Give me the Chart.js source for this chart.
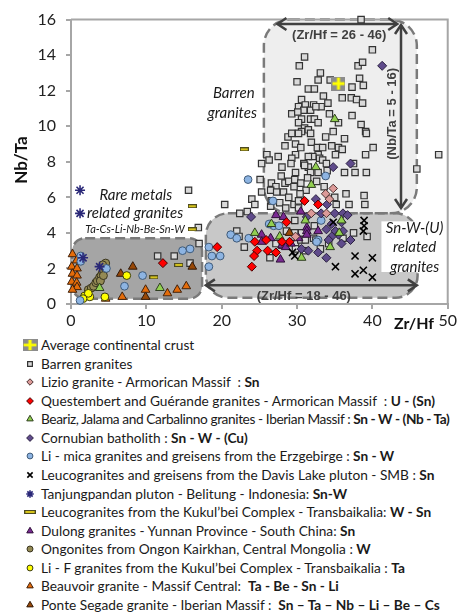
<!DOCTYPE html>
<html>
<head>
<meta charset="utf-8">
<title>Nb/Ta vs Zr/Hf</title>
<script src="https://cdn.jsdelivr.net/npm/chart.js@4.4.1/dist/chart.umd.min.js"></script>
<style>
  html, body { margin: 0; padding: 0; background: #fff; }
  #page { position: relative; width: 459px; height: 613px; overflow: hidden; }
  #chart { position: absolute; left: 0; top: 0; }
  #legend { position: absolute; left: 0; top: 0; width: 459px; font-family: Lato, "Open Sans", sans-serif; font-size: 13.7px; color: #1a1a1a; }
  .item { position: absolute; left: 0; height: 18px; line-height: 18px; white-space: pre; }
  .item canvas { position: absolute; left: 20px; top: 0; }
  .item span { position: absolute; left: 41px; top: 0; }
  .item.tight span { letter-spacing: -0.4px; }
</style>
</head>
<body>
<div id="page">
  <canvas id="chart" width="459" height="335"></canvas>
  <div id="legend"></div>
</div>
<script>
// Zr/Hf (x) against Nb/Ta (y) for each granite group
const crust = [[35.5, 12.4]];

const barrenGranites = [
  [38.5, 16.0], [40.0, 14.3], [31.0, 13.9], [30.3, 13.4], [38.1, 13.4], [38.7, 13.6], [33.1, 13.0],
  [32.8, 12.6], [34.4, 12.6], [38.3, 12.7], [38.8, 12.3], [37.3, 12.2], [31.5, 12.1], [32.3, 12.1],
  [33.5, 11.7], [36.0, 11.6], [37.2, 11.6], [37.9, 11.5], [38.7, 11.3], [30.6, 11.5],
  [30.2, 11.1], [31.1, 11.2], [32.2, 11.2], [33.2, 11.1], [30.9, 10.9], [31.8, 10.9], [32.5, 11.1],
  [29.3, 10.7], [30.1, 10.8], [30.6, 10.4], [31.8, 10.4], [32.3, 10.4], [32.8, 10.2], [34.3, 10.7],
  [37.3, 10.6], [35.5, 10.2], [30.2, 10.2], [31.0, 9.9], [30.6, 9.7], [31.5, 9.8], [28.8, 9.4],
  [29.3, 9.6], [30.2, 9.6], [31.8, 9.6], [33.8, 9.4], [34.8, 9.7], [38.5, 10.1], [39.1, 9.7],
  [39.2, 9.6], [36.3, 9.3], [35.5, 8.8], [36.0, 8.7], [35.1, 8.4], [40.1, 8.8], [39.1, 8.4],
  [29.8, 9.0], [30.5, 8.8], [31.9, 9.1], [32.7, 8.8], [33.4, 8.8], [32.8, 8.4], [29.8, 8.4],
  [29.3, 8.2], [32.1, 8.3], [33.0, 8.2], [31.5, 8.3], [33.4, 8.1], [26.0, 8.4], [26.3, 8.1],
  [48.8, 8.4], [25.3, 7.9], [45.9, 7.6], [28.0, 7.7], [29.2, 7.9], [30.9, 7.9], [31.5, 7.7],
  [29.8, 7.4], [31.0, 7.8], [31.8, 7.4], [32.8, 7.4], [34.0, 7.5], [36.3, 7.4], [37.7, 7.4],
  [39.2, 7.4], [37.5, 7.9], [25.1, 7.0], [26.6, 6.8], [27.2, 6.6], [28.4, 6.8], [28.9, 6.9],
  [29.7, 7.0], [29.6, 6.6], [30.5, 6.8], [25.3, 6.3], [26.5, 6.4], [27.3, 6.3], [28.2, 6.3],
  [20.4, 5.6], [24.0, 5.9], [24.4, 5.6], [26.5, 5.5], [27.7, 5.7], [28.5, 5.4], [22.4, 5.1],
  [23.4, 5.2], [29.7, 4.7], [28.9, 6.0], [29.6, 5.6], [30.2, 5.8], [30.2, 5.4], [26.6, 5.8],
  [36.5, 6.2], [38.9, 6.1], [39.0, 5.6], [36.9, 5.6], [35.2, 5.6], [35.0, 6.0], [29.7, 4.0],
  [30.6, 4.0], [29.8, 3.4], [30.5, 3.6], [32.2, 3.7], [33.1, 3.1], [26.4, 2.6], [39.3, 3.8],
  [22.0, 4.1], [22.3, 3.8], [17.0, 3.4], [23.0, 3.2], [31.1, 3.6], [32.5, 3.6], [34.2, 3.4],
  [36.1, 3.7], [37.5, 4.0], [32.3, 4.4], [28.6, 4.1], [28.0, 3.3], [27.2, 3.4], [30.9, 3.0],
  [29.8, 3.1], [11.5, 2.7], [13.7, 2.7], [15.6, 6.4], [16.9, 4.3], [15.8, 2.3],
  [31.2, 6.4], [32.6, 6.9], [33.6, 6.6], [30.4, 6.2], [27.9, 7.2], [34.6, 8.9], [28.4, 8.9],
  [31.4, 7.1], [33.9, 7.9], [27.5, 8.3], [30.0, 12.5], [34.1, 11.3]
];

const lizio = [[34.8, 6.5], [33.8, 6.2], [31.9, 5.1], [33.9, 5.1], [29.8, 3.8], [34.3, 5.9]];

const questembert = [
  [31.0, 5.8], [32.8, 5.6], [28.6, 4.6], [25.9, 3.6], [24.4, 3.5], [29.0, 3.5], [28.0, 3.5],
  [24.7, 3.0], [26.1, 3.0], [27.2, 2.9], [24.3, 2.7], [24.0, 2.1], [19.4, 3.2], [12.2, 2.3]
];

const beariz = [
  [35.0, 10.4], [32.5, 7.7], [31.9, 6.7], [31.1, 4.7], [26.6, 4.5], [24.4, 4.0], [27.7, 3.8],
  [35.9, 4.7], [35.6, 4.0], [34.4, 3.2], [30.6, 2.6], [11.8, 0.9], [3.8, 0.9]
];

const cornubian = [
  [41.3, 13.4], [34.8, 7.7], [37.1, 7.9], [23.9, 4.9], [31.3, 4.9], [34.0, 5.6], [35.0, 5.1],
  [36.1, 5.1], [36.7, 5.0], [35.9, 4.6], [34.6, 4.5], [33.9, 4.2], [35.1, 4.1], [36.1, 4.1],
  [35.5, 3.9], [34.6, 3.8], [37.1, 3.6], [35.9, 3.4], [30.6, 3.1], [31.5, 3.0], [33.9, 2.6],
  [32.5, 5.9], [33.2, 5.1], [34.2, 3.6], [32.8, 2.9]
];

const erzgebirge = [
  [23.5, 7.0], [33.8, 7.2], [26.8, 5.8], [33.2, 4.7], [32.8, 3.6], [26.9, 4.4], [26.3, 4.5],
  [21.2, 3.9], [22.0, 3.7], [23.6, 3.7], [27.6, 4.4], [32.6, 3.5], [18.3, 3.2], [18.7, 2.7],
  [19.8, 2.7], [18.3, 2.1], [14.8, 3.0], [15.8, 3.1], [9.5, 1.6], [7.1, 1.0], [1.3, 2.7],
  [1.3, 2.4], [4.7, 2.0], [1.2, 0.2]
];

const davisLake = [
  [38.9, 4.7], [38.9, 4.4], [38.8, 4.1], [37.7, 2.7], [40.0, 2.6], [35.1, 2.1], [37.7, 1.7],
  [38.8, 1.9], [40.0, 1.5], [29.4, 2.9], [29.7, 2.7], [34.8, 4.6]
];

const tanjungpandan = [[1.2, 6.4], [1.2, 5.1], [1.6, 2.6], [3.8, 2.1]];

const kukulbeiLeuco = [[23.0, 8.7], [16.1, 5.5], [16.1, 4.2], [14.3, 2.2], [11.0, 1.5]];

const dulong = [
  [27.2, 5.0], [28.2, 4.9], [30.5, 5.2], [31.3, 4.3], [31.3, 4.1], [31.3, 3.9], [25.3, 3.9],
  [26.5, 3.7], [28.0, 3.3], [28.5, 3.2], [27.8, 2.5], [32.8, 4.1], [30.2, 3.7], [25.3, 3.5],
  [29.2, 3.4]
];

const ongonites = [
  [2.3, 0.8], [2.7, 0.9], [3.0, 1.0], [3.3, 1.2], [3.5, 1.3], [3.8, 1.5], [4.0, 1.6], [4.2, 1.8],
  [4.3, 1.9], [4.4, 2.1], [4.5, 2.2], [4.6, 2.3], [3.9, 1.3], [4.3, 1.6], [4.6, 2.0], [4.2, 2.2]
];

const kukulbeiLiF = [[1.8, 0.45], [2.5, 0.4], [2.3, 0.6], [4.5, 0.4], [7.4, 1.6], [1.6, 0.3]];

const beauvoir = [
  [0.2, 2.8], [0.75, 2.45], [0.1, 2.1], [0.8, 2.0], [0.2, 1.7], [0.8, 1.6], [0.1, 1.25],
  [0.75, 1.2], [0.8, 0.95], [0.2, 0.8], [9.9, 0.8], [12.8, 0.6], [14.1, 0.8], [15.3, 1.0],
  [6.8, 0.4], [4.6, 0.3]
];

const ponteSegade = [[29.0, 4.0], [16.1, 2.1], [8.2, 2.1], [6.6, 1.7], [9.9, 0.4]];

// shaded fields, arrows and their captions (axis units)
const zones = [
  { x0: 25.6, x1: 45.9, y0: 5.1, y1: 16.0, fill: '#eeeeee', r: 26 },
  { x0: 17.9, x1: 46.0, y0: 0.35, y1: 5.1, fill: '#c8c8c8', r: 22 },
  { x0: 0.15, x1: 17.4, y0: 0.3, y1: 3.7, fill: '#a5a5a5', r: 13 }
];
const arrows = [
  [27.4, 15.75, 43.3, 15.75],
  [43.8, 15.7, 43.8, 5.4],
  [17.9, 1.05, 45.9, 1.05]
];

function makeIcon(w, h, paint) {
  const c = document.createElement('canvas');
  c.width = w;
  c.height = h;
  paint(c.getContext('2d'), w, h);
  return c;
}
const crustIcon = makeIcon(14, 14, (g, w, h) => {
  g.fillStyle = '#8c8c8c';
  g.fillRect(0, 0, w, h);
  g.fillStyle = '#ffff00';
  g.fillRect(5.5, 1, 3, 12);
  g.fillRect(1, 5.5, 12, 3);
});
const dashIcon = makeIcon(9, 4, (g, w) => {
  g.fillStyle = '#d6c41c';
  g.fillRect(1, 1, w - 2, 2);
  g.strokeStyle = '#4d4a20';
  g.lineWidth = 1;
  g.strokeRect(0.5, 0.5, w - 1, 3);
});

const series = [
  { label: 'Average continental crust', bold: '', data: crust, style: crustIcon, r: 7, bg: '#8c8c8c', bd: '#8c8c8c', bw: 0, order: 0 },
  { label: 'Barren granites', bold: '', data: barrenGranites, style: 'rect', r: 4.5, bg: '#d9d9d9', bd: '#333333', bw: 1.2, order: 20 },
  { label: 'Lizio granite - Armorican Massif  : ', bold: 'Sn', data: lizio, style: 'rectRot', r: 4.3, bg: '#dc9a98', bd: '#4a3030', bw: 1, order: 5 },
  { label: 'Questembert and Guérande granites - Armorican Massif  : ', bold: 'U - (Sn)', data: questembert, style: 'rectRot', r: 4.5, bg: '#ff0000', bd: '#4a0000', bw: 1, order: 4 },
  { label: 'Beariz, Jalama and Carbalinno granites - Iberian Massif : ', bold: 'Sn - W - (Nb - Ta)', data: beariz, style: 'triangle', r: 5, bg: '#92d050', bd: '#2e3d20', bw: 1, order: 6, tight: true },
  { label: 'Cornubian batholith : ', bold: 'Sn - W - (Cu)', data: cornubian, style: 'rectRot', r: 4.5, bg: '#5f4b8b', bd: '#2a2040', bw: 1, order: 7 },
  { label: 'Li - mica granites and greisens from the Erzgebirge : ', bold: 'Sn - W', data: erzgebirge, style: 'circle', r: 3.9, bg: '#8db4e2', bd: '#3f5a78', bw: 1, order: 8 },
  { label: 'Leucogranites and greisens from the Davis Lake pluton - SMB : ', bold: 'Sn', data: davisLake, style: 'crossRot', r: 5, bg: '#000000', bd: '#000000', bw: 1.6, order: 3 },
  { label: 'Tanjungpandan pluton - Belitung - Indonesia: ', bold: 'Sn-W', data: tanjungpandan, style: 'star', r: 5, bg: '#2a2878', bd: '#2a2878', bw: 1.6, order: 2 },
  { label: 'Leucogranites from the Kukul’bei Complex - Transbaikalia: ', bold: 'W - Sn', data: kukulbeiLeuco, style: dashIcon, r: 5, bg: '#d6c41c', bd: '#4d4a20', bw: 0, order: 1 },
  { label: 'Dulong granites - Yunnan Province - South China: ', bold: 'Sn', data: dulong, style: 'triangle', r: 5, bg: '#7a2a92', bd: '#2e1038', bw: 1, order: 9 },
  { label: 'Ongonites from Ongon Kairkhan, Central Mongolia : ', bold: 'W', data: ongonites, style: 'circle', r: 4, bg: '#948a54', bd: '#3a3520', bw: 1, order: 11 },
  { label: 'Li - F granites from the Kukul’bei Complex - Transbaikalia : ', bold: 'Ta', data: kukulbeiLiF, style: 'circle', r: 3.9, bg: '#ffff00', bd: '#3a3a10', bw: 1, order: 10 },
  { label: 'Beauvoir granite - Massif Central:  ', bold: 'Ta - Be - Sn - Li', data: beauvoir, style: 'triangle', r: 5, bg: '#e46c0a', bd: '#40200a', bw: 1, order: 12 },
  { label: 'Ponte Segade granite - Iberian Massif :  ', bold: 'Sn – Ta – Nb – Li – Be – Cs', data: ponteSegade, style: 'triangle', r: 5, bg: '#984807', bd: '#301808', bw: 1, order: 13 }
];

function roundRect(ctx, l, t, r, b, rad) {
  ctx.beginPath();
  ctx.moveTo(l + rad, t);
  ctx.arcTo(r, t, r, b, rad);
  ctx.arcTo(r, b, l, b, rad);
  ctx.arcTo(l, b, l, t, rad);
  ctx.arcTo(l, t, r, t, rad);
  ctx.closePath();
}

function chevron(ctx, x, y, ang) {
  const L = 9, W = 6;
  const c = Math.cos(ang), s = Math.sin(ang);
  ctx.beginPath();
  ctx.moveTo(x - L * c + W * s, y - L * s - W * c);
  ctx.lineTo(x, y);
  ctx.lineTo(x - L * c - W * s, y - L * s + W * c);
  ctx.stroke();
}

function label(ctx, text, x, y, font, rot) {
  ctx.save();
  ctx.translate(x, y);
  if (rot) ctx.rotate(rot);
  ctx.font = font;
  ctx.textAlign = 'center';
  ctx.textBaseline = 'middle';
  ctx.fillText(text, 0, 0);
  ctx.restore();
}

const fields = {
  id: 'fields',
  beforeDatasetsDraw(chart) {
    const { ctx, chartArea: a, scales: { x, y } } = chart;
    const px = v => x.getPixelForValue(v);
    const py = v => y.getPixelForValue(v);
    ctx.save();

    zones.forEach(z => {
      roundRect(ctx, px(z.x0), py(z.y1), px(z.x1), py(z.y0), z.r);
      ctx.fillStyle = z.fill;
      ctx.fill();
    });
    ctx.setLineDash([10, 5]);
    ctx.lineWidth = 2.5;
    ctx.strokeStyle = '#7a7a7a';
    zones.forEach(z => {
      roundRect(ctx, px(z.x0), py(z.y1), px(z.x1), py(z.y0), z.r);
      ctx.stroke();
    });
    ctx.setLineDash([]);

    // white patch behind the Sn-W-(U) caption
    ctx.fillStyle = '#ffffff';
    ctx.fillRect(px(41.2), py(4.65), a.right - px(41.2), py(1.8) - py(4.65));

    // top and right frame
    ctx.strokeStyle = '#a6a6a6';
    ctx.lineWidth = 2;
    ctx.beginPath();
    ctx.moveTo(a.left, a.top);
    ctx.lineTo(a.right, a.top);
    ctx.lineTo(a.right, a.bottom);
    ctx.stroke();

    // range arrows
    ctx.strokeStyle = '#404040';
    ctx.lineWidth = 2.5;
    arrows.forEach(([x1, y1, x2, y2]) => {
      const X1 = px(x1), Y1 = py(y1), X2 = px(x2), Y2 = py(y2);
      ctx.beginPath();
      ctx.moveTo(X1, Y1);
      ctx.lineTo(X2, Y2);
      ctx.stroke();
      chevron(ctx, X2, Y2, Math.atan2(Y2 - Y1, X2 - X1));
      chevron(ctx, X1, Y1, Math.atan2(Y1 - Y2, X1 - X2));
    });

    ctx.fillStyle = '#404040';
    const bold = 'bold 13px "Liberation Sans", Arial, sans-serif';
    label(ctx, '(Zr/Hf = 26 - 46)', px(35.6), py(15.1), bold);
    label(ctx, '(Nb/Ta = 5 - 16)', px(42.6), py(10.7), bold, -Math.PI / 2);
    label(ctx, '(Zr/Hf = 18 - 46)', px(30.9), py(0.4), bold);

    ctx.fillStyle = '#1a1a1a';
    const it = 'italic 15px Lato, sans-serif';
    label(ctx, 'Barren', px(21.6), py(11.85), it);
    label(ctx, 'granites', px(21.4), py(10.75), it);
    label(ctx, 'Rare metals', px(8.6), py(6.1), it);
    label(ctx, 'related granites', px(8.5), py(5.1), it);
    label(ctx, 'Ta-Cs-Li-Nb-Be-Sn-W', px(8.5), py(4.2), 'italic 11px Lato, sans-serif');
    label(ctx, 'Sn-W-(U)', px(45.6), py(4.25), it);
    label(ctx, 'related', px(45.6), py(3.2), it);
    label(ctx, 'granites', px(45.6), py(2.1), it);
    ctx.restore();
  },
  afterDraw(chart) {
    const { ctx } = chart;
    ctx.save();
    ctx.fillStyle = '#111111';
    label(ctx, 'Nb/Ta', 22, 160, 'bold 17px Lato, sans-serif', -Math.PI / 2);
    label(ctx, 'Zr/Hf', 414, 324, 'bold 16px Lato, sans-serif');
    ctx.restore();
  }
};

const tickFont = { family: 'Lato', size: 16 };
const axisGrid = { display: true, drawOnChartArea: false, drawTicks: true, tickLength: 5, color: '#a6a6a6', lineWidth: 2 };

new Chart('chart', {
  type: 'scatter',
  data: {
    datasets: series.map(s => ({
      label: s.label,
      data: s.data.map(([x, y]) => ({ x, y })),
      pointStyle: s.style,
      pointRadius: s.r,
      pointBackgroundColor: s.bg,
      pointBorderColor: s.bd,
      pointBorderWidth: s.bw,
      order: s.order,
      clip: false
    }))
  },
  options: {
    responsive: false,
    animation: false,
    events: [],
    layout: { padding: { top: 17, right: 9, left: 0, bottom: 0 } },
    plugins: { legend: { display: false }, tooltip: { enabled: false } },
    scales: {
      x: {
        type: 'linear', min: 0, max: 50,
        ticks: { stepSize: 10, font: tickFont, color: '#222222', padding: 2 },
        grid: axisGrid,
        border: { color: '#a6a6a6', width: 2 },
        afterFit(s) { s.height = 31; }
      },
      y: {
        type: 'linear', min: 0, max: 16,
        ticks: { stepSize: 2, font: tickFont, color: '#222222', padding: 10 },
        grid: axisGrid,
        border: { color: '#a6a6a6', width: 2 },
        afterFit(s) { s.width = 71; }
      }
    }
  },
  plugins: [fields]
});

// legend rows under the plot
const legendBox = document.getElementById('legend');
series.forEach((s, i) => {
  const row = document.createElement('div');
  row.className = s.tight ? 'item tight' : 'item';
  row.style.top = (336 + i * 18.57) + 'px';
  const c = document.createElement('canvas');
  c.width = 20;
  c.height = 18;
  const g = c.getContext('2d');
  if (s.style instanceof HTMLCanvasElement) {
    const w = s.style === crustIcon ? 15 : 12;
    const h = s.style === crustIcon ? 12 : 4;
    g.drawImage(s.style, 10 - w / 2, 9 - h / 2, w, h);
  } else {
    g.fillStyle = s.bg;
    g.strokeStyle = s.bd;
    g.lineWidth = s.bw;
    Chart.helpers.drawPoint(g, { pointStyle: s.style, radius: s.r * 0.75, rotation: 0, borderWidth: s.bw }, 10, 9);
  }
  row.appendChild(c);
  const t = document.createElement('span');
  t.textContent = s.label;
  if (s.bold) {
    const b = document.createElement('b');
    b.textContent = s.bold;
    t.appendChild(b);
  }
  row.appendChild(t);
  legendBox.appendChild(row);
});
</script>
</body>
</html>
